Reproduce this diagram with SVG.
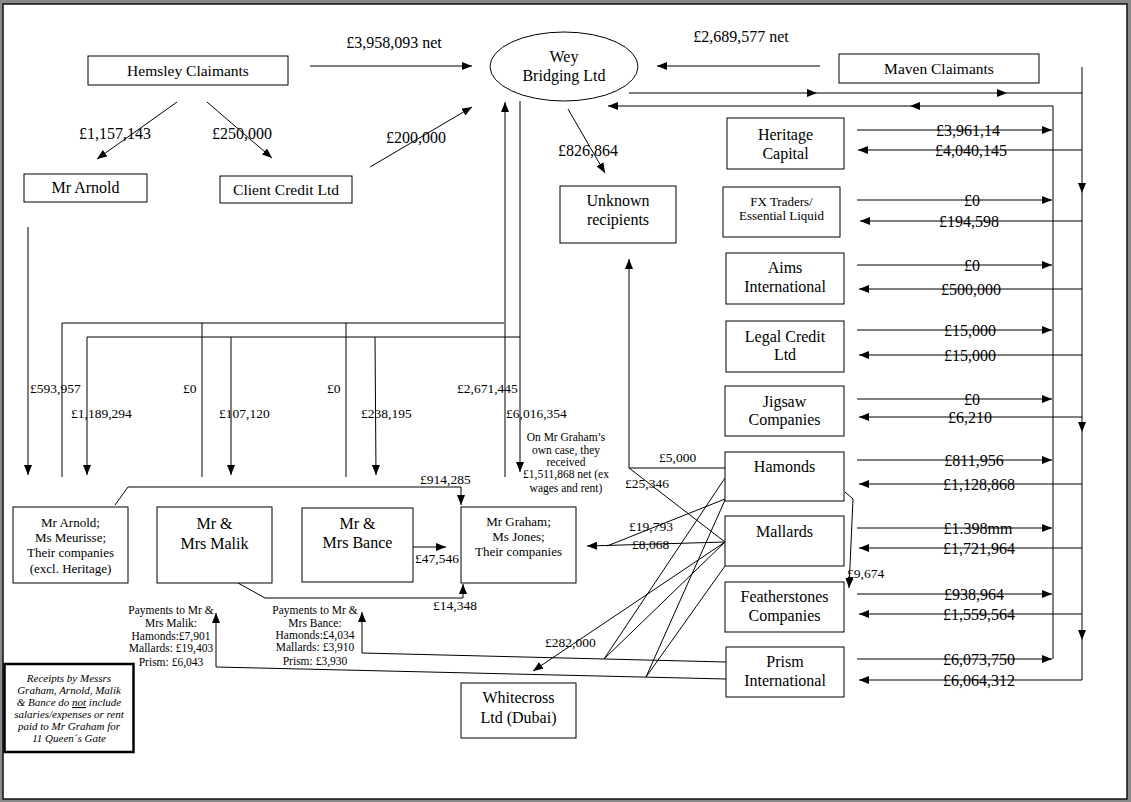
<svg xmlns="http://www.w3.org/2000/svg" width="1131" height="802" viewBox="0 0 1131 802">
<defs>
<style>
.n{fill:#fff;stroke:#000;stroke-width:1}
.nb{fill:#fff;stroke:#000;stroke-width:2.5}
.c{fill:none;stroke:#000;stroke-width:1}
.a{marker-end:url(#ah)}
text{font-family:"Liberation Serif","Times New Roman",serif;fill:#000}
.m{text-anchor:middle}
.f16{font-size:16px}
.f15{font-size:15.5px}
.f13{font-size:13px}
.f135{font-size:13.5px}
.fs{font-size:11.5px}
.it{font-style:italic;font-size:11px}
</style>
<marker id="ah" markerUnits="userSpaceOnUse" markerWidth="10" markerHeight="8" refX="10" refY="4" orient="auto"><path d="M0,0 L10,4 L0,8 z" fill="#000"/></marker>
</defs>
<rect width="1131" height="802" fill="#8a8a8a"/>
<rect x="3" y="4" width="1124" height="795" fill="#fff" stroke="#111" stroke-width="1.5"/>

<g id="connectors">
<path class="c a" d="M310,66 H472"/>
<path class="c a" d="M820,66 H657"/>
<path class="c a" d="M177,102 L97,159"/>
<path class="c a" d="M207,102 L272,158"/>
<path class="c a" d="M370,167 L472,107"/>
<path class="c a" d="M568,109 L605,173"/>
<path class="c a" d="M629,93 H817"/>
<path class="c a" d="M817,93 H1007"/>
<path class="c" d="M1007,93 H1082"/>
<path class="c a" d="M1082,67 V193"/>
<path class="c a" d="M1082,193 V432"/>
<path class="c a" d="M1082,432 V640"/>
<path class="c a" d="M1082,640 V680 H859"/>
<path class="c a" d="M1053,659 V106 H910"/>
<path class="c a" d="M910,106 H608"/>
<path class="c a" d="M857,130 H1052"/>
<path class="c a" d="M1082,150 H858"/>
<path class="c a" d="M857,200 H1052"/>
<path class="c a" d="M1082,221 H860"/>
<path class="c a" d="M857,265 H1052"/>
<path class="c a" d="M1082,289 H859"/>
<path class="c a" d="M857,330 H1052"/>
<path class="c a" d="M1082,355 H859"/>
<path class="c a" d="M857,399 H1052"/>
<path class="c a" d="M1082,417 H859"/>
<path class="c a" d="M857,460 H1052"/>
<path class="c a" d="M1082,484 H859"/>
<path class="c a" d="M857,528 H1052"/>
<path class="c a" d="M1082,548 H859"/>
<path class="c a" d="M857,594 H1052"/>
<path class="c a" d="M1082,614 H859"/>
<path class="c a" d="M857,659 H1052"/>
<path class="c a" d="M28,227 V475"/>
<path class="c a" d="M505,477 V102"/>
<path class="c a" d="M520,101 V472"/>
<path class="c" d="M62,477 V323 H504"/>
<path class="c" d="M202,477 V323"/>
<path class="c" d="M346,477 V323"/>
<path class="c" d="M87,337 H520"/>
<path class="c a" d="M87,337 V475"/>
<path class="c a" d="M231,337 V475"/>
<path class="c a" d="M375,337 L376,475"/>
<path class="c a" d="M115,505 L128,487 H461 V505"/>
<path class="c a" d="M413,547 H446"/>
<path class="c a" d="M238,583 L265,598 H463 V584"/>
<path class="c a" d="M725,468 H629 V259"/>
<path class="c" d="M629,468 L725,542"/>
<path class="c" d="M725,499 L607,546"/>
<path class="c a" d="M725,542 L587,546"/>
<path class="c a" d="M725,542 L533,671"/>
<path class="c" d="M725,478 L604,659"/>
<path class="c" d="M725,542 L604,659"/>
<path class="c" d="M725,500 L646,677"/>
<path class="c" d="M725,566 L646,677"/>
<path class="c a" d="M726,662 L362,653 V612"/>
<path class="c a" d="M726,679 L216,667 V613"/>
<path class="c a" d="M845,492 L853,499 L849,588"/>
</g>

<g id="labels">
<text class="f16 m" x="394" y="48">£3,958,093 net</text>
<text class="f16 m" x="741" y="42">£2,689,577 net</text>
<text class="f16 m" x="115" y="139">£1,157,143</text>
<text class="f16 m" x="242" y="139">£250,000</text>
<text class="f16 m" x="416" y="143">£200,000</text>
<text class="f16 m" x="588" y="156">£826,864</text>
<text class="f16 m" x="968" y="135.5">£3,961,14</text>
<text class="f16 m" x="971" y="155.5">£4,040,145</text>
<text class="f16 m" x="972" y="205.5">£0</text>
<text class="f16 m" x="969" y="226.5">£194,598</text>
<text class="f16 m" x="972" y="270.5">£0</text>
<text class="f16 m" x="971" y="294.5">£500,000</text>
<text class="f16 m" x="970" y="335.5">£15,000</text>
<text class="f16 m" x="970" y="360.5">£15,000</text>
<text class="f16 m" x="972" y="404.5">£0</text>
<text class="f16 m" x="970" y="422.5">£6,210</text>
<text class="f16 m" x="974" y="465.5">£811,956</text>
<text class="f16 m" x="979" y="489.5">£1,128,868</text>
<text class="f16 m" x="978" y="533.5">£1.398mm</text>
<text class="f16 m" x="979" y="553.5">£1,721,964</text>
<text class="f16 m" x="974" y="599.5">£938,964</text>
<text class="f16 m" x="979" y="619.5">£1,559,564</text>
<text class="f16 m" x="979" y="664.5">£6,073,750</text>
<text class="f16 m" x="979" y="685.5">£6,064,312</text>
<text class="f135" x="30" y="393">£593,957</text>
<text class="f135" x="183" y="393">£0</text>
<text class="f135" x="327" y="393">£0</text>
<text class="f135" x="457" y="393">£2,671,445</text>
<text class="f135" x="71" y="418">£1,189,294</text>
<text class="f135" x="219" y="418">£107,120</text>
<text class="f135" x="361" y="418">£238,195</text>
<text class="f135" x="506" y="418">£6,016,354</text>
<text class="fs m" x="566" y="441">On Mr Graham’s</text>
<text class="fs m" x="566" y="454">own case, they</text>
<text class="fs m" x="566" y="466">received</text>
<text class="fs m" x="566" y="478">£1,511,868 net (ex</text>
<text class="fs m" x="566" y="492">wages and rent)</text>
<text class="f135" x="420" y="484">£914,285</text>
<text class="f135" x="415" y="563">£47,546</text>
<text class="f135" x="433" y="610">£14,348</text>
<text class="f135" x="659" y="462">£5,000</text>
<text class="f135" x="625" y="488">£25,346</text>
<text class="f135" x="629" y="531">£19,793</text>
<text class="f135" x="632" y="549">£8,068</text>
<text class="f135" x="545" y="647">£282,000</text>
<text class="f135" x="847" y="578">£9,674</text>
<text class="fs m" x="171" y="614">Payments to Mr &amp;</text>
<text class="fs m" x="171" y="627">Mrs Malik:</text>
<text class="fs m" x="171" y="640">Hamonds:£7,901</text>
<text class="fs m" x="171" y="652">Mallards: £19,403</text>
<text class="fs m" x="171" y="666">Prism: £6,043</text>
<text class="fs m" x="315" y="614">Payments to Mr &amp;</text>
<text class="fs m" x="315" y="627">Mrs Bance:</text>
<text class="fs m" x="315" y="639">Hamonds:£4,034</text>
<text class="fs m" x="315" y="651">Mallards: £3,910</text>
<text class="fs m" x="315" y="665">Prism: £3,930</text>
</g>

<g id="hemsley"><rect class="n" x="88" y="56" width="200" height="29"/><text class="f15 m" x="188" y="76">Hemsley Claimants</text></g>
<g id="wey"><ellipse class="n" cx="564" cy="66.5" rx="74" ry="34.5"/><text class="f16 m" x="564" y="62">Wey</text><text class="f16 m" x="564" y="81">Bridging Ltd</text></g>
<g id="maven"><rect class="n" x="839" y="54" width="200" height="29"/><text class="f15 m" x="939" y="74">Maven Claimants</text></g>
<g id="mr-arnold"><rect class="n" x="24" y="174" width="123" height="28"/><text class="f16 m" x="85.5" y="193">Mr Arnold</text></g>
<g id="client-credit"><rect class="n" x="220" y="176" width="132" height="27"/><text class="f15 m" x="286" y="195">Client Credit Ltd</text></g>
<g id="unknown"><rect class="n" x="560" y="186" width="116" height="57"/><text class="f16 m" x="618" y="206">Unknown</text><text class="f16 m" x="618" y="225">recipients</text></g>
<g id="heritage"><rect class="n" x="727" y="118" width="117" height="51"/><text class="f16 m" x="785.5" y="140">Heritage</text><text class="f16 m" x="785.5" y="159">Capital</text></g>
<g id="fx"><rect class="n" x="723" y="187" width="117" height="50"/><text class="f13 m" x="781.5" y="206">FX Traders/</text><text class="f13 m" x="781.5" y="220">Essential Liquid</text></g>
<g id="aims"><rect class="n" x="726" y="253" width="118" height="51"/><text class="f16 m" x="785" y="273">Aims</text><text class="f16 m" x="785" y="292">International</text></g>
<g id="legal-credit"><rect class="n" x="726" y="321" width="118" height="51"/><text class="f16 m" x="785" y="342">Legal Credit</text><text class="f16 m" x="785" y="360">Ltd</text></g>
<g id="jigsaw"><rect class="n" x="725" y="386" width="119" height="50"/><text class="f16 m" x="784.5" y="407">Jigsaw</text><text class="f16 m" x="784.5" y="425">Companies</text></g>
<g id="hamonds"><rect class="n" x="725" y="452" width="119" height="49"/><text class="f16 m" x="784.5" y="472">Hamonds</text></g>
<g id="mallards"><rect class="n" x="725" y="516" width="119" height="50"/><text class="f16 m" x="784.5" y="537">Mallards</text></g>
<g id="featherstones"><rect class="n" x="725" y="582" width="119" height="50"/><text class="f16 m" x="784.5" y="602">Featherstones</text><text class="f16 m" x="784.5" y="621">Companies</text></g>
<g id="prism"><rect class="n" x="726" y="647" width="118" height="50"/><text class="f16 m" x="785" y="667">Prism</text><text class="f16 m" x="785" y="686">International</text></g>
<g id="arnold-group"><rect class="n" x="13" y="507" width="115" height="76"/><text class="f13 m" x="70.5" y="527">Mr Arnold;</text><text class="f13 m" x="70.5" y="542">Ms Meurisse;</text><text class="f13 m" x="70.5" y="557">Their companies</text><text class="f13 m" x="70.5" y="573">(excl. Heritage)</text></g>
<g id="malik"><rect class="n" x="157" y="507" width="115" height="76"/><text class="f16 m" x="214.5" y="529">Mr &amp;</text><text class="f16 m" x="214.5" y="549">Mrs Malik</text></g>
<g id="bance"><rect class="n" x="302" y="508" width="111" height="74"/><text class="f16 m" x="357.5" y="529">Mr &amp;</text><text class="f16 m" x="357.5" y="548">Mrs Bance</text></g>
<g id="graham"><rect class="n" x="461" y="507" width="115" height="76"/><text class="f13 m" x="518.5" y="526">Mr Graham;</text><text class="f13 m" x="518.5" y="541">Ms Jones;</text><text class="f13 m" x="518.5" y="556">Their companies</text></g>
<g id="whitecross"><rect class="n" x="461" y="683" width="115" height="55"/><text class="f16 m" x="518.5" y="703">Whitecross</text><text class="f16 m" x="518.5" y="723">Ltd (Dubai)</text></g>
<g id="note"><rect class="nb" x="4.5" y="664" width="129" height="88"/>
<text class="it m" x="69" y="682">Receipts by Messrs</text>
<text class="it m" x="69" y="694">Graham, Arnold, Malik</text>
<text class="it m" x="69" y="706">&amp; Bance do <tspan text-decoration="underline">not</tspan> include</text>
<text class="it m" x="69" y="718">salaries/expenses or rent</text>
<text class="it m" x="69" y="730">paid to Mr Graham for</text>
<text class="it m" x="69" y="742">11 Queen´s Gate</text>
</g>
</svg>
